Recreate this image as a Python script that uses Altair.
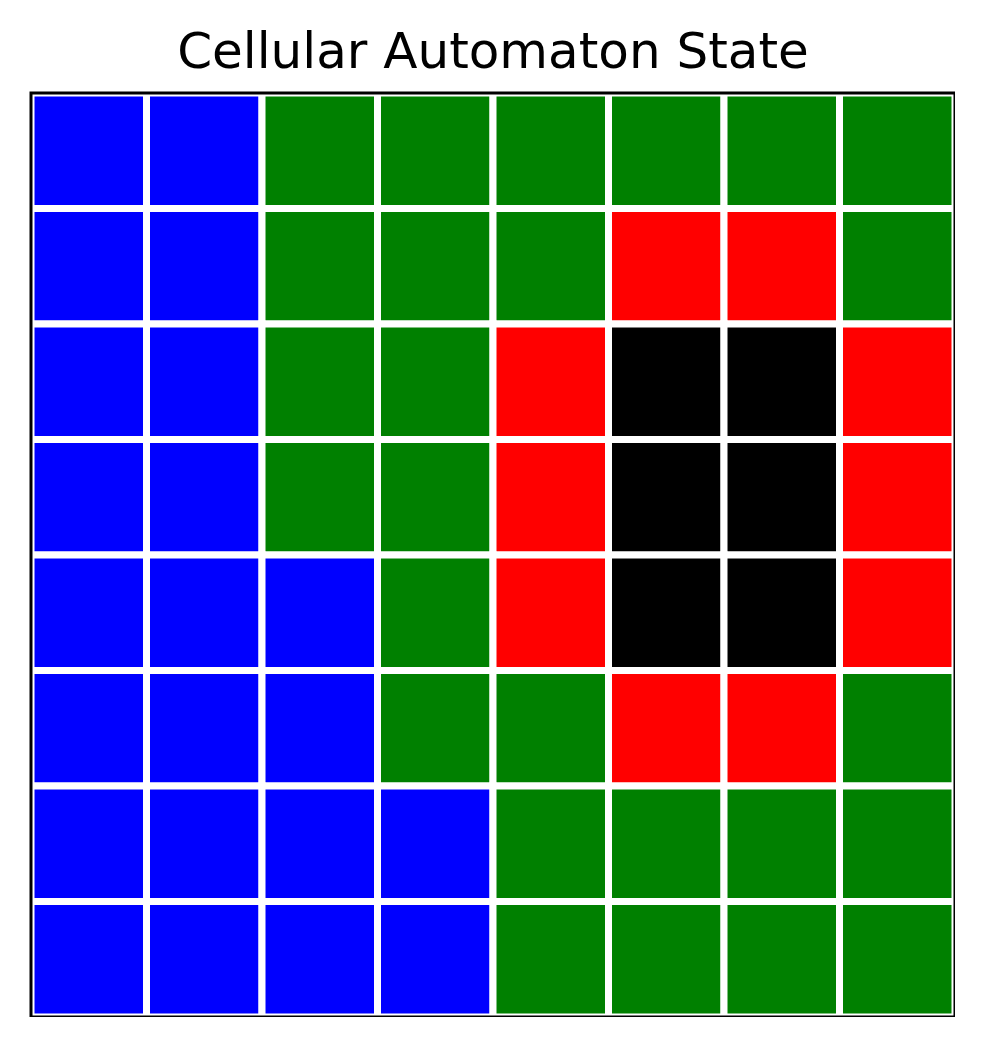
import altair as alt
import pandas as pd

# 8x8 grid states (row 0 = top)
rows = [
    "BBGGGGGG",
    "BBGGGRRG",
    "BBGGRKKR",
    "BBGGRKKR",
    "BBBGRKKR",
    "BBBGGRRG",
    "BBBBGGGG",
    "BBBBGGGG",
]
state_names = {"B": "blue", "G": "green", "R": "red", "K": "black"}
state_order = ["blue", "green", "red", "black"]
state_colors = ["#0000ff", "#008000", "#ff0000", "#000000"]

records = []
for r, line in enumerate(rows):
    for c, ch in enumerate(line):
        records.append({"col": c, "col2": c + 1, "row": r, "row2": r + 1,
                        "state": state_names[ch]})
df = pd.DataFrame(records)
frame_df = pd.DataFrame([{"x": 0, "x2": 8, "y": 0, "y2": 8}])

xs = alt.Scale(domain=[0, 8], nice=False, zero=False)
ys = alt.Scale(domain=[0, 8], nice=False, zero=False, reverse=True)

cells = alt.Chart(df).mark_rect(stroke="white", strokeWidth=7).encode(
    x=alt.X("col:Q", scale=xs, axis=None),
    x2="col2:Q",
    y=alt.Y("row:Q", scale=ys, axis=None),
    y2="row2:Q",
    color=alt.Color("state:N", scale=alt.Scale(domain=state_order, range=state_colors), legend=None),
)

frame = alt.Chart(frame_df).mark_rect(fill=None, stroke="black", strokeWidth=3).encode(
    x=alt.X("x:Q", scale=xs, axis=None),
    x2="x2:Q",
    y=alt.Y("y:Q", scale=ys, axis=None),
    y2="y2:Q",
)

chart = alt.layer(cells, frame).properties(
    width=924,
    height=924,
    title=alt.TitleParams("Cellular Automaton State", font="DejaVu Sans", fontSize=50,
                          fontWeight="normal", color="black", offset=23,
                          baseline="alphabetic", dy=51),
    padding={"left": 31, "top": 93, "right": 0, "bottom": 0},
    autosize=alt.AutoSizeParams(type="none"),
).configure_view(stroke=None).configure(background="white")

chart.save("out.html", embed_options={"renderer": "svg", "actions": False})
